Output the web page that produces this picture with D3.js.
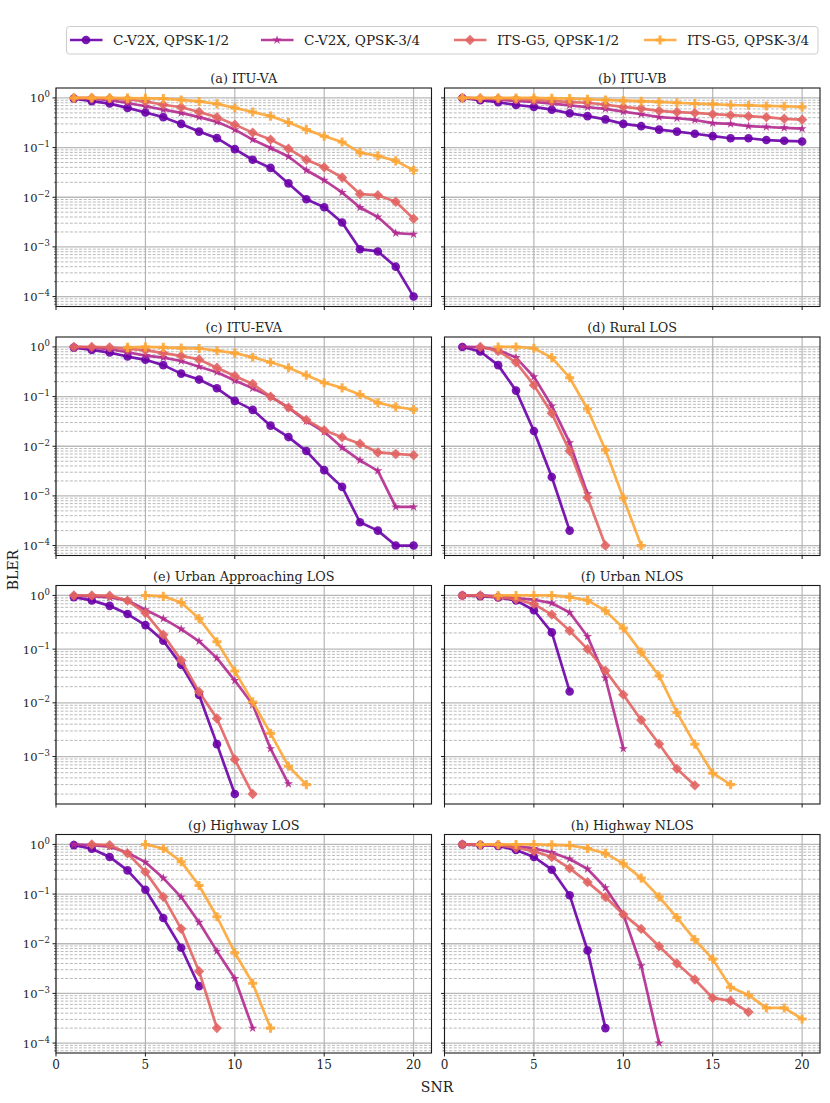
<!DOCTYPE html>
<html>
<head>
<meta charset="utf-8">
<script src="https://cdn.jsdelivr.net/npm/d3@7"></script>
<style>
  body { margin: 0; background: #fff; }
  svg { display: block; }
</style>
</head>
<body>
<div id="chart"></div>
<script>
// SNR values (x axis)
const snr = [1, 2, 3, 4, 5, 6, 7, 8, 9, 10, 11, 12, 13, 14, 15, 16, 17, 18, 19, 20];
const xTicks = [0, 5, 10, 15, 20];

const seriesNames = ['C-V2X, QPSK-1/2', 'C-V2X, QPSK-3/4', 'ITS-G5, QPSK-1/2', 'ITS-G5, QPSK-3/4'];
const seriesColors = ['#6a00a8', '#b12a90', '#e16462', '#fca636'];
const seriesMarkers = ['circle', 'star', 'diamond', 'plus'];

const panelTitles = ['(a) ITU-VA', '(b) ITU-VB', '(c) ITU-EVA', '(d) Rural LOS',
  '(e) Urban Approaching LOS', '(f) Urban NLOS', '(g) Highway LOS', '(h) Highway NLOS'];

// BLER per SNR, null = not simulated
// (a) ITU-VA
const va_c12 = [0.97, 0.86, 0.77, 0.63, 0.51, 0.41, 0.30, 0.21, 0.155, 0.093, 0.057, 0.039, 0.019, 0.0091, 0.0063, 0.0031, 0.0009, 0.00081, 0.0004, 0.0001];
const va_c34 = [0.98, 0.97, 0.9, 0.79, 0.68, 0.58, 0.50, 0.41, 0.33, 0.23, 0.145, 0.098, 0.066, 0.035, 0.022, 0.0125, 0.0062, 0.004, 0.0019, 0.0018];
const va_g12 = [1.0, 1.0, 0.98, 0.93, 0.85, 0.73, 0.65, 0.52, 0.41, 0.29, 0.20, 0.145, 0.095, 0.057, 0.040, 0.025, 0.0116, 0.011, 0.0081, 0.0037];
const va_g34 = [1.0, 1.0, 1.0, 0.99, 0.98, 0.97, 0.91, 0.85, 0.76, 0.63, 0.52, 0.43, 0.32, 0.23, 0.17, 0.13, 0.079, 0.068, 0.054, 0.035];
// (b) ITU-VB
const vb_c12 = [1.0, 0.9, 0.82, 0.72, 0.66, 0.58, 0.49, 0.43, 0.37, 0.30, 0.27, 0.23, 0.21, 0.19, 0.17, 0.154, 0.154, 0.142, 0.137, 0.133];
const vb_c34 = [1.0, 0.97, 0.92, 0.87, 0.83, 0.77, 0.71, 0.65, 0.6, 0.53, 0.47, 0.41, 0.39, 0.36, 0.31, 0.30, 0.27, 0.26, 0.25, 0.24];
const vb_g12 = [1.0, 0.98, 0.97, 0.94, 0.91, 0.87, 0.82, 0.8, 0.73, 0.66, 0.61, 0.55, 0.52, 0.50, 0.47, 0.45, 0.43, 0.41, 0.38, 0.365];
const vb_g34 = [1.0, 1.0, 1.0, 1.0, 1.0, 0.98, 0.97, 0.94, 0.91, 0.88, 0.86, 0.83, 0.80, 0.77, 0.75, 0.72, 0.71, 0.69, 0.68, 0.66];
// (c) ITU-EVA
const eva_c12 = [0.97, 0.87, 0.77, 0.64, 0.55, 0.43, 0.29, 0.22, 0.147, 0.082, 0.054, 0.026, 0.0153, 0.008, 0.0033, 0.00152, 0.000295, 0.0002, 0.0001, 0.0001];
const eva_c34 = [1.0, 0.97, 0.9, 0.78, 0.67, 0.61, 0.52, 0.40, 0.31, 0.21, 0.147, 0.1, 0.06, 0.032, 0.0195, 0.0094, 0.0052, 0.0032, 0.0006, 0.0006];
const eva_g12 = [1.0, 1.0, 0.98, 0.91, 0.86, 0.75, 0.66, 0.56, 0.38, 0.26, 0.18, 0.1, 0.06, 0.034, 0.021, 0.0152, 0.0112, 0.0075, 0.007, 0.0066];
const eva_g34 = [null, null, null, 0.98, 1.0, 0.98, 0.95, 0.93, 0.84, 0.75, 0.62, 0.49, 0.38, 0.27, 0.19, 0.15, 0.11, 0.075, 0.062, 0.055];
// (d) Rural LOS
const rlos_c12 = [1.0, 0.81, 0.43, 0.132, 0.0203, 0.0024, 0.0002];
const rlos_c34 = [1.0, 0.99, 0.87, 0.61, 0.25, 0.065, 0.0118, 0.0011];
const rlos_g12 = [null, 1.0, 0.83, 0.49, 0.17, 0.046, 0.008, 0.00093, 0.0001];
const rlos_g34 = [null, null, 1.0, 1.0, 0.94, 0.61, 0.24, 0.056, 0.0084, 0.00091, 0.0001];
// (e) Urban Approaching LOS
const ualos_c12 = [0.93, 0.81, 0.64, 0.45, 0.28, 0.143, 0.051, 0.014, 0.0017, 0.0002];
const ualos_c34 = [0.99, 0.96, 0.92, 0.81, 0.54, 0.37, 0.236, 0.14, 0.068, 0.026, 0.0093, 0.0014, 0.00031];
const ualos_g12 = [1.0, 1.0, 0.99, 0.8, 0.47, 0.185, 0.062, 0.016, 0.0051, 0.00088, 0.0002];
const ualos_g34 = [null, null, null, null, 1.0, 0.96, 0.74, 0.37, 0.137, 0.039, 0.0104, 0.0027, 0.00066, 0.0003];
// (f) Urban NLOS
const unlos_c12 = [1.0, 0.97, 0.92, 0.81, 0.53, 0.205, 0.0163];
const unlos_c34 = [1.0, 1.0, 0.96, 0.89, 0.83, 0.72, 0.48, 0.172, 0.029, 0.0014];
const unlos_g12 = [1.0, 1.0, 0.93, 0.85, 0.69, 0.44, 0.22, 0.1, 0.0395, 0.0142, 0.0048, 0.00171, 0.00059, 0.00029];
const unlos_g34 = [null, null, 1.0, 1.0, 1.0, 1.0, 0.93, 0.81, 0.52, 0.246, 0.088, 0.032, 0.0066, 0.0017, 0.00049, 0.0003];
// (g) Highway LOS
const hlos_c12 = [0.97, 0.82, 0.56, 0.30, 0.122, 0.033, 0.0083, 0.0014];
const hlos_c34 = [1.0, 0.97, 0.9, 0.68, 0.44, 0.21, 0.087, 0.027, 0.0071, 0.002, 0.0002];
const hlos_g12 = [null, 1.0, 0.97, 0.66, 0.28, 0.088, 0.02, 0.0028, 0.0002];
const hlos_g34 = [null, null, null, null, 1.0, 0.83, 0.45, 0.149, 0.035, 0.0066, 0.0016, 0.0002];
// (h) Highway NLOS
const hnlos_c12 = [1.0, 0.97, 0.93, 0.77, 0.56, 0.31, 0.095, 0.0073, 0.0002];
const hnlos_c34 = [1.0, 0.98, 0.97, 0.93, 0.83, 0.69, 0.51, 0.32, 0.134, 0.039, 0.0036, 0.0001];
const hnlos_g12 = [1.0, 0.98, 0.97, 0.86, 0.73, 0.56, 0.33, 0.174, 0.087, 0.039, 0.0199, 0.0089, 0.0040, 0.0019, 0.00081, 0.00071, 0.00042];
const hnlos_g34 = [null, 1.0, 1.0, 1.0, 1.0, 0.98, 0.955, 0.83, 0.66, 0.41, 0.21, 0.088, 0.0337, 0.0121, 0.0049, 0.00133, 0.00093, 0.00051, 0.00051, 0.000305];

const panelData = [
  [va_c12, va_c34, va_g12, va_g34],
  [vb_c12, vb_c34, vb_g12, vb_g34],
  [eva_c12, eva_c34, eva_g12, eva_g34],
  [rlos_c12, rlos_c34, rlos_g12, rlos_g34],
  [ualos_c12, ualos_c34, ualos_g12, ualos_g34],
  [unlos_c12, unlos_c34, unlos_g12, unlos_g34],
  [hlos_c12, hlos_c34, hlos_g12, hlos_g34],
  [hnlos_c12, hnlos_c34, hnlos_g12, hnlos_g34]
];

// layout
const W = 830, H = 1103;
const colX = [56, 444.5], rowY = [88, 337, 585.5, 834.5];
const pw = 375.5, ph = 218.5;

const svg = d3.select('#chart').append('svg')
  .attr('width', W).attr('height', H)
  .attr('viewBox', `0 0 ${W} ${H}`)
  .attr('font-family', "'DejaVu Serif', serif")
  .attr('fill', '#222');

const x = d3.scaleLinear().domain([0, 21]).range([0, pw]);

// marker shapes
function markerPath(type) {
  if (type === 'circle') return d3.symbol(d3.symbolCircle, 58)();
  if (type === 'star') return d3.symbol(d3.symbolStar, 26)();
  if (type === 'plus') return d3.symbol(d3.symbolCross, 46)();
  const h = 5.2;
  return `M0,${-h}L${h},0L0,${h}L${-h},0Z`;
}

// superscript power label like matplotlib's 10^k
function powLabel(sel, k) {
  sel.append('tspan').text('10');
  sel.append('tspan').attr('dy', -5).attr('font-size', 8.5)
    .text(k < 0 ? '\u2212' + (-k) : String(k));
}

panelTitles.forEach((title, i) => {
  const row = Math.floor(i / 2), col = i % 2;
  // each row shares the y range
  const rowVals = panelData[row * 2].concat(panelData[row * 2 + 1]).flat().filter(v => v != null);
  const lmin = Math.log10(d3.min(rowVals)), lmax = Math.log10(d3.max(rowVals));
  const pad = (lmax - lmin) * 0.05;
  const y = d3.scaleLog().domain([Math.pow(10, lmin - pad), Math.pow(10, lmax + pad)]).range([ph, 0]);

  const g = svg.append('g').attr('transform', `translate(${colX[col]},${rowY[row]})`);

  // grid: minor dashed, major solid
  const kLo = Math.floor(lmin - pad), kHi = Math.ceil(lmax + pad);
  const majors = [], minors = [];
  for (let k = kLo; k <= kHi; k++) {
    const v = Math.pow(10, k);
    if (v >= y.domain()[0] && v <= y.domain()[1]) majors.push(k);
    for (let m = 2; m <= 9; m++) {
      const mv = m * v;
      if (mv >= y.domain()[0] && mv <= y.domain()[1]) minors.push(mv);
    }
  }
  g.append('g').selectAll('line').data(minors).join('line')
    .attr('x1', 0).attr('x2', pw)
    .attr('y1', d => y(d)).attr('y2', d => y(d))
    .attr('stroke', '#8c8c8c').attr('stroke-width', 0.6).attr('stroke-dasharray', '3,1.6');
  g.append('g').selectAll('line').data(majors).join('line')
    .attr('x1', 0).attr('x2', pw)
    .attr('y1', d => y(Math.pow(10, d))).attr('y2', d => y(Math.pow(10, d)))
    .attr('stroke', '#b8b8b8').attr('stroke-width', 1.3);
  g.append('g').selectAll('line').data(xTicks).join('line')
    .attr('x1', d => x(d)).attr('x2', d => x(d))
    .attr('y1', 0).attr('y2', ph)
    .attr('stroke', '#b0b0b0').attr('stroke-width', 1.1);

  // series
  panelData[i].forEach((vals, s) => {
    const pts = vals.map((v, j) => ({ x: snr[j], v })).filter(d => d.v != null);
    const line = d3.line().x(d => x(d.x)).y(d => y(d.v));
    const sg = g.append('g');
    sg.append('path').datum(pts).attr('d', line)
      .attr('fill', 'none').attr('stroke', seriesColors[s])
      .attr('stroke-width', 2.7).attr('stroke-opacity', 0.9)
      .attr('stroke-linejoin', 'round');
    sg.selectAll('path.mk').data(pts).join('path')
      .attr('class', 'mk')
      .attr('d', markerPath(seriesMarkers[s]))
      .attr('transform', d => `translate(${x(d.x)},${y(d.v)})`)
      .attr('fill', seriesColors[s]).attr('fill-opacity', 0.9);
  });

  // frame
  g.append('rect').attr('width', pw).attr('height', ph)
    .attr('fill', 'none').attr('stroke', '#1a1a1a').attr('stroke-width', 1.1);

  // ticks
  g.append('g').selectAll('line').data(xTicks).join('line')
    .attr('x1', d => x(d)).attr('x2', d => x(d))
    .attr('y1', ph).attr('y2', ph + 3.5)
    .attr('stroke', '#1a1a1a').attr('stroke-width', 1);
  g.append('g').selectAll('line').data(majors).join('line')
    .attr('x1', -3.5).attr('x2', 0)
    .attr('y1', d => y(Math.pow(10, d))).attr('y2', d => y(Math.pow(10, d)))
    .attr('stroke', '#1a1a1a').attr('stroke-width', 1);
  g.append('g').selectAll('line').data(minors).join('line')
    .attr('x1', -2).attr('x2', 0)
    .attr('y1', d => y(d)).attr('y2', d => y(d))
    .attr('stroke', '#1a1a1a').attr('stroke-width', 0.6);

  // tick labels
  if (col === 0) {
    g.append('g').selectAll('text').data(majors).join('text')
      .attr('x', -6).attr('y', d => y(Math.pow(10, d)) + 4.5)
      .attr('text-anchor', 'end').attr('font-size', 11.5)
      .each(function (d) { powLabel(d3.select(this), d); });
  }
  if (row === 3) {
    g.append('g').selectAll('text').data(xTicks).join('text')
      .attr('x', d => x(d)).attr('y', ph + 16)
      .attr('text-anchor', 'middle').attr('font-size', 12)
      .text(d => d);
  }

  // title
  g.append('text').attr('x', pw / 2).attr('y', -5)
    .attr('text-anchor', 'middle').attr('font-size', 12.8)
    .text(title);
});

// axis labels
svg.append('text').attr('transform', 'translate(18,570) rotate(-90)')
  .attr('text-anchor', 'middle').attr('font-size', 14).text('BLER');
svg.append('text').attr('x', 437).attr('y', 1092)
  .attr('text-anchor', 'middle').attr('font-size', 14).text('SNR');

// legend
const legend = svg.append('g');
legend.append('rect').attr('x', 66.5).attr('y', 26.5).attr('width', 751.5).attr('height', 27.5)
  .attr('rx', 3).attr('fill', '#fff').attr('stroke', '#cccccc').attr('stroke-width', 1);
const legX = [86, 277, 470, 660];
seriesNames.forEach((name, s) => {
  const lg = legend.append('g').attr('transform', `translate(${legX[s]},40)`);
  lg.append('line').attr('x1', -16).attr('x2', 16.5)
    .attr('stroke', seriesColors[s]).attr('stroke-width', 2.7).attr('stroke-opacity', 0.9);
  lg.append('path').attr('d', markerPath(seriesMarkers[s]))
    .attr('fill', seriesColors[s]).attr('fill-opacity', 0.9);
  lg.append('text').attr('x', 27).attr('y', 5).attr('font-size', 13.6).text(name);
});
</script>
</body>
</html>
